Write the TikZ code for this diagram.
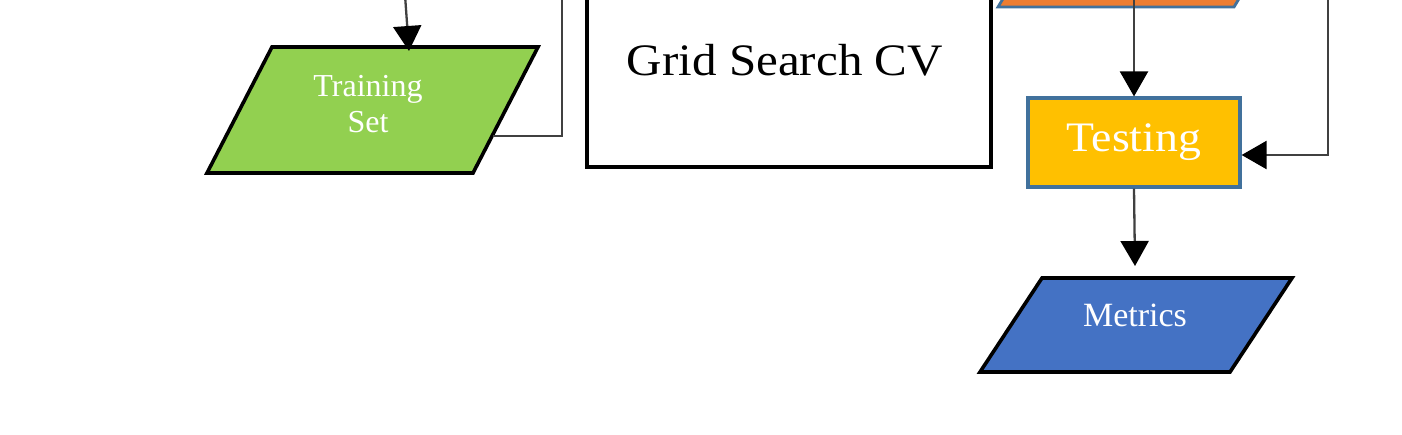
\documentclass[tikz,border=0pt]{standalone}
\usepackage{fontspec}
\setmainfont{Liberation Serif}
\newfontfamily\widefont[FakeStretch=1.09]{Liberation Serif}
\usetikzlibrary{arrows.meta}
\definecolor{cgreen}{HTML}{92D050}
\definecolor{corange}{HTML}{ED7D31}
\definecolor{cyellow}{HTML}{FFC000}
\definecolor{cblue}{HTML}{4472C4}
\definecolor{cborder}{HTML}{41719C}
\definecolor{cline}{HTML}{404040}
\tikzset{
  conn/.style={draw=cline, line width=2.3pt},
  arr/.style={conn, -{Triangle[length=25pt,width=28pt,fill=black,color=black]}},
  para/.style={draw=black, line width=3.6pt, line join=miter},
  wtext/.style={text=white, align=center, inner sep=0pt},
}
\begin{document}
\begin{tikzpicture}[x=1pt,y=-1pt]
\useasboundingbox (0,0) rectangle (1402,434);
\clip (0,0) rectangle (1402,434);
% shapes
\draw[para, fill=cgreen] (272,47) -- (538,47) -- (473,173) -- (207,173) -- cycle;
\draw[draw=cborder, line width=2.8pt, fill=corange] (998,7) -- (1234,7) -- (1282,-73) -- (1046,-73) -- cycle;
\draw[para, fill=cblue] (1042,278) -- (1292,278) -- (1230,372) -- (980,372) -- cycle;
\node[draw=black, line width=4.2pt, minimum width=404pt, minimum height=190pt, inner sep=0pt] (grid) at (789,72) {};
\node[font=\widefont\fontsize{45}{50}\selectfont, inner sep=0pt, anchor=base] (gridtxt) at (785,75) {Grid Search CV};
\node[wtext, font=\fontsize{32}{36}\selectfont] (train) at (368,104) {Training\\Set};
\node[draw=cborder, fill=cyellow, line width=3.2pt, minimum width=212pt, minimum height=89pt, inner sep=0pt,
      text=white, font=\widefont\fontsize{42}{48}\selectfont] (test) at (1134,142.5) {Testing};
\node[wtext, font=\fontsize{34}{38}\selectfont] (metrics) at (1135,315) {Metrics};
% coordinates
\coordinate (c1) at (405,-5);
\coordinate (t1) at (409,51);
\coordinate (tr) at (493,136);
\coordinate (c2) at (562,136);
\coordinate (c3) at (562,-5);
\coordinate (o1) at (1134,-5);
\coordinate (r1) at (1328,-5);
\coordinate (r2) at (1328,155);
\coordinate (m1) at (1135,266);
% connectors
\draw[arr] (c1) -- (t1);
\draw[conn] (tr) -- (c2) -- (c3);
\draw[arr] (o1) -- (test.north);
\draw[arr] (r1) -- (r2) -- (test.east |- r2);
\draw[arr] (test.south) -- (m1);
\end{tikzpicture}
\end{document}
